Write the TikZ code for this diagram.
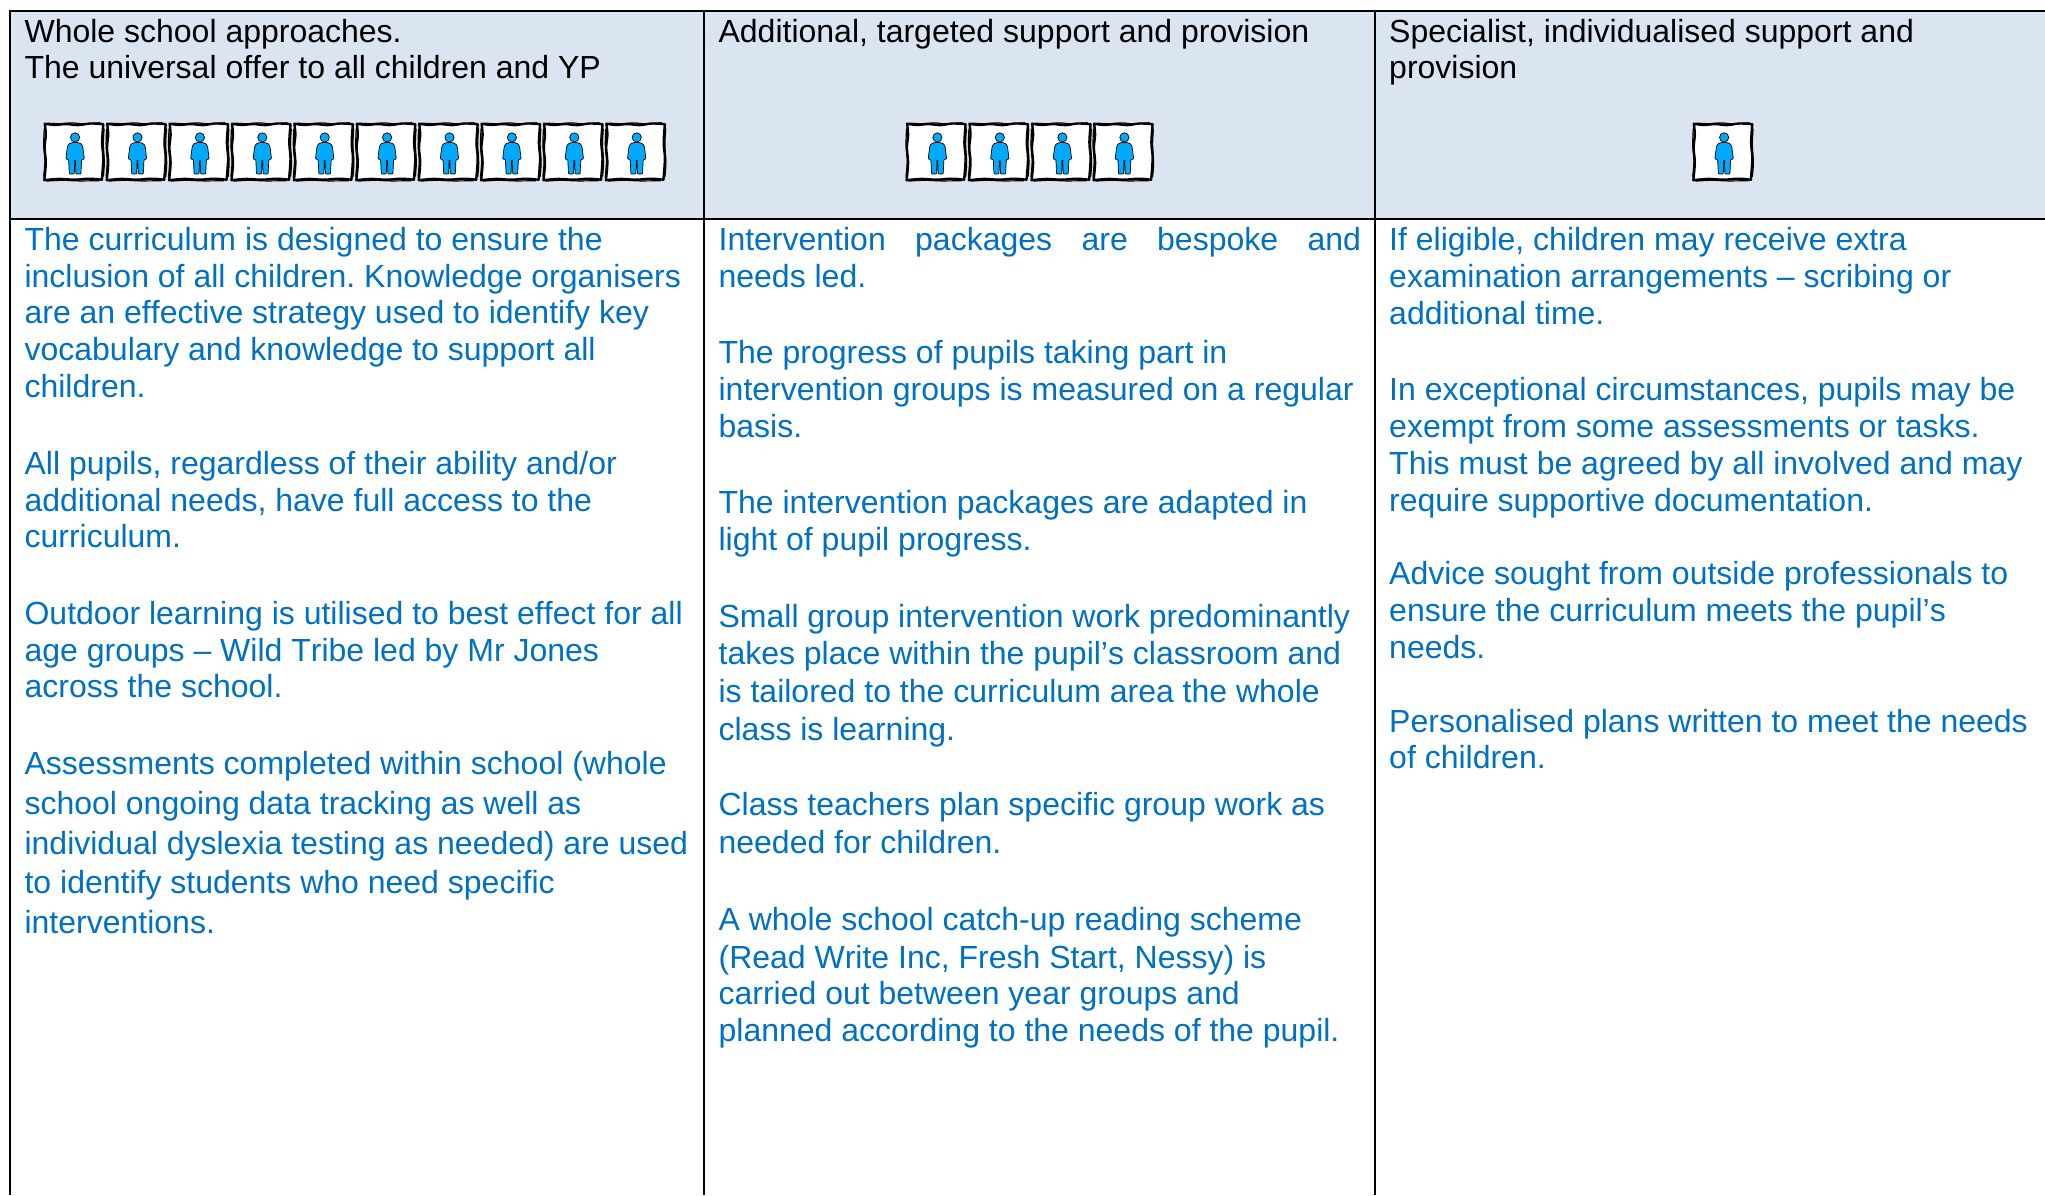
\documentclass[tikz,border=0pt]{standalone}
\usepackage{fontspec}
\setmainfont{Liberation Sans}[Kerning=Off,Ligatures=NoCommon]
\frenchspacing
\definecolor{headfill}{HTML}{DBE5F1}
\definecolor{bodyblue}{HTML}{0070C0}
\definecolor{figblue}{HTML}{00A9FA}
\tikzset{
  rule/.style={draw=black,line width=2pt},
  headtext/.style={anchor=base west,inner sep=0pt,yshift=-0.7pt,text=black,font=\fontsize{32}{37}\selectfont\frenchspacing},
  bodytext/.style={anchor=base west,inner sep=0pt,yshift=-0.6pt,text=bodyblue,font=\fontsize{32}{37}\selectfont\frenchspacing},
  pupil/.pic={
    \draw[black,line width=2.4pt,fill=white,line join=round]
      plot[smooth,tension=.6] coordinates {(0.5,1)(10,2.2)(22,1.4)(34,2.4)(46,0.8)(59,1.5)}
      -- plot[smooth,tension=.6] coordinates {(59,1.5)(57.8,20)(59,36)(57.5,57)}
      -- plot[smooth,tension=.6] coordinates {(57.5,57)(45,56)(30,57)(15,56.2)(0,57.5)}
      -- plot[smooth,tension=.6] coordinates {(0,57.5)(1.5,40)(0.3,25)(1.5,12)(0.5,1)} -- cycle;
    \draw[black,line width=1.2pt]
      plot[smooth,tension=.6] coordinates {(3,0.4)(15,1)(28,0.2)(40,1.2)(56,0)};
    \draw[black,line width=1.2pt]
      plot[smooth,tension=.6] coordinates {(59.8,6)(59,22)(60,40)(59,54)};
    \draw[black,line width=1.2pt]
      plot[smooth,tension=.6] coordinates {(2,58.4)(18,57.6)(34,58.2)(55,58)};
    \draw[black,line width=1.2pt]
      plot[smooth,tension=.6] coordinates {(-0.6,54)(0.6,38)(-0.6,22)(0,6)};
    \begin{scope}[shift={(30.8,0)}]
      \draw[black,line width=0.7pt,fill=figblue,rounded corners=0.7pt]
        (-2.6,19.8) -- (-6.2,21.2) -- (-7.7,24) -- (-9.2,36.2) -- (-6.5,37) -- (-5.8,51.2)
        -- (-0.8,51.2) -- (-0.3,38) -- (0.3,38) -- (0.8,51.2) -- (5.8,51.2) -- (6.5,37)
        -- (9.2,36.2) -- (7.7,24) -- (6.2,21.2) -- (2.6,19.8) -- cycle;
      \draw[black,line width=0.7pt,fill=figblue] (0,14.7) circle[radius=4.6];
    \end{scope}
  }
}
\begin{document}
\begin{tikzpicture}[x=1pt,y=-1pt]
\useasboundingbox (0,0) rectangle (2045,1195);
% header band
\fill[headfill] (10,11) rectangle (2045,219);
% table rules
\draw[rule] (2045,11) -- (10,11) -- (10,1195);
\draw[rule] (10,219) -- (2045,219);
\draw[rule] (704,11) -- (704,1195);
\draw[rule] (1375,11) -- (1375,1195);
% header text
\node[headtext] (h1a) at (24.4,41.7) {Whole school approaches.};
\node[headtext] (h1b) at (24.4,78) {The universal offer to all children and YP};
\node[headtext] (h2a) at (718.4,41.7) {Additional, targeted support and provision};
\node[headtext] (h3a) at (1389,41.7) {Specialist, individualised support and};
\node[headtext] (h3b) at (1389,78) {provision};
% pupil tiles
\foreach \tx in {44.3,106.7,169.1,231.5,293.9,356.3,418.7,481.1,543.5,605.9,906.6,969,1031.6,1093.6,1693.3}
  \pic at (\tx,122.7) {pupil};
% column one
\foreach \ly/\txt [count=\i] in {
  250/{The curriculum is designed to ensure the},
  286.7/{inclusion of all children. Knowledge organisers},
  323.3/{are an effective strategy used to identify key},
  359.5/{vocabulary and knowledge to support all},
  397.3/{children.},
  474/{All pupils, regardless of their ability and/or},
  510.7/{additional needs, have full access to the},
  547.3/{curriculum.},
  624/{Outdoor learning is utilised to best effect for all},
  661/{age groups – Wild Tribe led by Mr Jones},
  697.3/{across the school.},
  774/{Assessments completed within school (whole},
  814/{school ongoing data tracking as well as},
  854/{individual dyslexia testing as needed) are used},
  893.3/{to identify students who need specific},
  933.3/{interventions.}}
  \node[bodytext] (a\i) at (24.4,\ly) {\txt};
% column two
\foreach \ly/\txt [count=\i] in {
  250/{\hbox to 642.4pt{Intervention\hfill packages\hfill are\hfill bespoke\hfill and}},
  287.3/{needs led.},
  362.7/{The progress of pupils taking part in},
  400/{intervention groups is measured on a regular},
  436.7/{basis.},
  512.7/{The intervention packages are adapted in},
  550/{light of pupil progress.},
  626.7/{Small group intervention work predominantly},
  664/{takes place within the pupil’s classroom and},
  702/{is tailored to the curriculum area the whole},
  740/{class is learning.},
  815/{Class teachers plan specific group work as},
  853.3/{needed for children.},
  930/{A whole school catch-up reading scheme},
  968.3/{(Read Write Inc, Fresh Start, Nessy) is},
  1004.3/{carried out between year groups and},
  1041/{planned according to the needs of the pupil.}}
  \node[bodytext] (b\i) at (718.4,\ly) {\txt};
% column three
\foreach \ly/\txt [count=\i] in {
  250/{If eligible, children may receive extra},
  286.7/{examination arrangements – scribing or},
  324/{additional time.},
  400/{In exceptional circumstances, pupils may be},
  436.7/{exempt from some assessments or tasks.},
  474/{This must be agreed by all involved and may},
  510.7/{require supportive documentation.},
  584/{Advice sought from outside professionals to},
  620.6/{ensure the curriculum meets the pupil’s},
  658.3/{needs.},
  731.7/{Personalised plans written to meet the needs},
  767.7/{of children.}}
  \node[bodytext] (c\i) at (1389,\ly) {\txt};
\end{tikzpicture}
\end{document}
